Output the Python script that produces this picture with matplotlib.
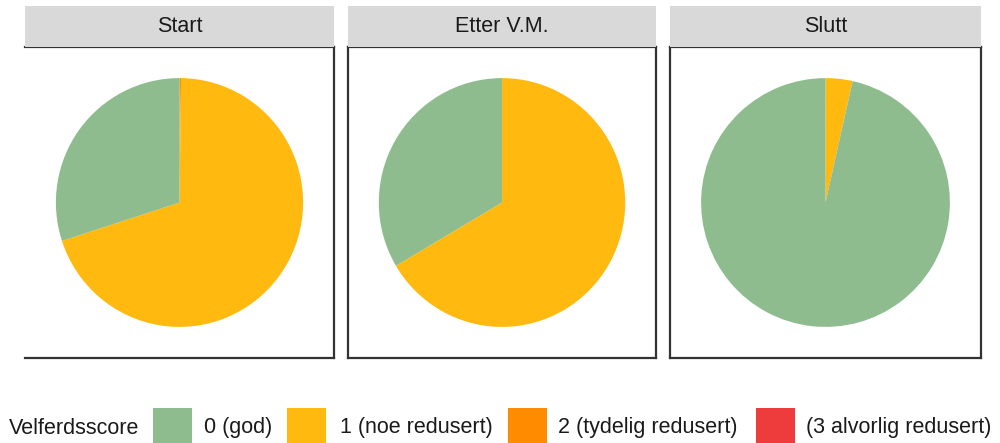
import matplotlib
matplotlib.use("Agg")
import matplotlib.pyplot as plt
from matplotlib.patches import Rectangle

plt.rcParams["font.family"] = ["Liberation Sans", "DejaVu Sans"]

# Welfare score shares (%) per time point
panels = ["Start", "Etter V.M.", "Slutt"]
levels = ["0 (god)", "1 (noe redusert)", "2 (tydelig redusert)", "(3 alvorlig redusert)"]
colors = ["#8FBC8F", "#FFB90F", "#FF8C00", "#EE3B3B"]
score0 = [30.0, 33.5, 96.5]
score1 = [69.8, 66.5, 3.5]
score2 = [0.2, 0.0, 0.0]
score3 = [0.0, 0.0, 0.0]

W, H = 1000, 443
fig = plt.figure(figsize=(W / 100, H / 100), dpi=100)

def fx(px):
    return px / W

def fy(py):
    return 1 - py / H

panel_x = [(25, 334), (348, 656), (670, 981)]
strip_top, panel_top, panel_bot = 6, 47, 358
txt_col = "#1A1A1A"

for i, name in enumerate(panels):
    x0, x1 = panel_x[i]
    ax = fig.add_axes([fx(x0), fy(panel_bot), fx(x1 - x0), (panel_bot - panel_top) / H])
    # stacking order as in a polar bar chart: last level first, clockwise from top
    vals = [score3[i], score2[i], score1[i], score0[i]]
    cols = [colors[3], colors[2], colors[1], colors[0]]
    ax.pie(vals, colors=cols, startangle=90, counterclock=False, radius=0.4,
           wedgeprops=dict(linewidth=0), normalize=True)
    ax.set_frame_on(True)
    ax.set_xlim(-0.5, 0.5)
    ax.set_ylim(-0.5, 0.5)
    ax.set_aspect("auto")
    ax.set_xticks([])
    ax.set_yticks([])
    for side, sp in ax.spines.items():
        sp.set_linewidth(1.6)
        sp.set_color("#333333")
    if i == 0:
        ax.spines["left"].set_visible(False)
    # facet strip
    fig.patches.append(Rectangle((fx(x0), fy(panel_top)), fx(x1 - x0), (panel_top - strip_top) / H,
                                 transform=fig.transFigure, facecolor="#D9D9D9",
                                 edgecolor="none", zorder=0))
    fig.text(fx((x0 + x1) / 2), fy((strip_top + panel_top) / 2), name, ha="center", va="center",
             fontsize=15.5, color=txt_col)

# legend along the bottom
leg_y = 428
fig.text(fx(9), fy(leg_y), "Velferdsscore", ha="left", va="center", fontsize=15.5, color=txt_col)
key_x = [153, 287, 508, 756]
lab_x = [204, 340, 558, 806]
for kx, lx, lab, c in zip(key_x, lab_x, levels, colors):
    fig.patches.append(Rectangle((fx(kx), fy(447)), fx(39), 39 / H, transform=fig.transFigure,
                                 facecolor=c, edgecolor="none"))
    fig.text(fx(lx), fy(leg_y), lab, ha="left", va="center", fontsize=15.5, color=txt_col)

fig.savefig("out.png", dpi=100)
